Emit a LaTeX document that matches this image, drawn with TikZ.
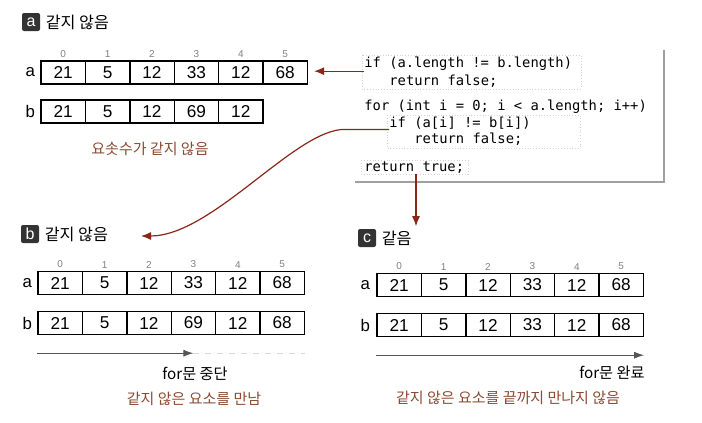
\documentclass[tikz,border=0pt]{standalone}
\usepackage{fontspec}
\setmainfont{Liberation Sans}
\newfontfamily\kr{Noto Sans CJK KR}
\newfontfamily\codefont{DejaVu Sans Mono}
\usepackage{tikz}
\usetikzlibrary{arrows.meta, positioning, calc}

\definecolor{arrowred}{HTML}{8B2518}
\definecolor{capbrown}{HTML}{8C4A32}
\definecolor{badgegray}{HTML}{333333}
\definecolor{flowgray}{HTML}{555555}

\begin{document}
\begin{tikzpicture}[
    x=0.5pt, y=-0.5pt,
    cell/.style={rectangle, draw, line width=0.7pt, minimum width=22.2pt, minimum height=11.5pt, inner sep=0pt, font=\fontsize{8.6}{9}\selectfont},
    idx/.style={inner sep=0pt, text=gray, font=\fontsize{5}{5}\selectfont},
    rowlbl/.style={inner sep=0pt, font=\fontsize{8.4}{9}\selectfont},
    badge/.style={rectangle, fill=badgegray, rounded corners=1pt, minimum size=9pt, inner sep=0pt, text=white, font=\fontsize{8}{8}\selectfont},
    title/.style={inner sep=0pt, font=\kr\fontsize{8.1}{9}\selectfont},
    caption/.style={inner sep=0pt, text=capbrown, font=\kr\fontsize{7.5}{8}\selectfont},
    note/.style={inner sep=0pt, font=\kr\fontsize{7.6}{8}\selectfont},
    code/.style={anchor=west, inner sep=0pt, font=\codefont\fontsize{6.9}{8}\selectfont},
    grp/.style={draw=gray!35, densely dotted, line width=0.4pt},
    frame/.style={draw=gray!75, line width=1.1pt},
    arrow/.style={-{Latex[length=5pt, width=4pt]}, draw=arrowred, line width=0.6pt},
    flow/.style={-{Latex[length=5pt, width=3.5pt]}, draw=flowgray, line width=0.5pt}
]
    \useasboundingbox (0,0) rectangle (702,423);

    % Panel a: lengths differ
    \node[badge] (ka) at (31,22) {a};
    \node[title, right=2.5pt of ka] (ta) {같지 않음};
    \foreach \v [count=\i from 0] in {21,5,12,33,12,68}
        \node[cell] (aa\i) at (63.2+44.4*\i,72.5) {\v};
    \foreach \v [count=\i from 0] in {21,5,12,69,12}
        \node[cell] (ab\i) at (63.2+44.4*\i,111.5) {\v};
    \foreach \i in {0,...,5}
        \node[idx, above=1.2pt of aa\i] (ia\i) {\i};
    \node[rowlbl, left=2.5pt of aa0] (la) {a};
    \node[rowlbl, left=2.5pt of ab0] (lb) {b};
    \node[caption] (capa) at (150,149) {요솟수가 같지 않음};

    % Code
    \node[code] (l1) at (364,64) {if (a.length != b.length)};
    \node[code] (l2) at (389,81) {return false;};
    \node[code] (l3) at (364,107) {for (int i = 0; i < a.length; i++)};
    \node[code] (l4) at (389,123) {if (a[i] != b[i])};
    \node[code] (l5) at (414,139) {return false;};
    \node[code] (l6) at (364,168) {return true;};
    \draw[grp] (362,55) rectangle (581,89);
    \draw[grp] (387,115) rectangle (580,148);
    \draw[grp] (361,160) rectangle (468,174);
    \draw[frame] (355,182) -- (664,182) -- (664,50);

    % Panel b: element differs
    \node[badge] (kb) at (30,234) {b};
    \node[title, right=2.5pt of kb] (tb) {같지 않음};
    \foreach \v [count=\i from 0] in {21,5,12,33,12,68}
        \node[cell] (ba\i) at (60.2+44.4*\i,283) {\v};
    \foreach \v [count=\i from 0] in {21,5,12,69,12,68}
        \node[cell] (bb\i) at (60.2+44.4*\i,323) {\v};
    \foreach \i in {0,...,5}
        \node[idx, above=1.2pt of ba\i] (ib\i) {\i};
    \node[rowlbl, left=2.5pt of ba0] (lba) {a};
    \node[rowlbl, left=2.5pt of bb0] (lbb) {b};
    \coordinate (bstart) at ([yshift=-9pt]bb0.south west);
    \coordinate (bstop) at (bstart -| bb3.center);
    \coordinate (bend) at (bstart -| bb5.east);
    \draw[flow] (bstart) -- (bstop);
    \draw[gray!30, dashed, line width=0.5pt] (bstop) -- (bend);
    \node[note] (nb) at (195,374) {for문 중단};
    \node[caption] (capb) at (194,399) {같지 않은 요소를 만남};

    % Panel c: equal
    \node[badge] (kc) at (367,238) {c};
    \node[title, right=2.5pt of kc] (tc) {같음};
    \foreach \v [count=\i from 0] in {21,5,12,33,12,68}
        \node[cell] (ca\i) at (399.2+44.4*\i,285) {\v};
    \foreach \v [count=\i from 0] in {21,5,12,33,12,68}
        \node[cell] (cb\i) at (399.2+44.4*\i,325) {\v};
    \foreach \i in {0,...,5}
        \node[idx, above=1.2pt of ca\i] (ic\i) {\i};
    \node[rowlbl, left=3pt of ca0] (lca) {a};
    \node[rowlbl, left=3pt of cb0] (lcb) {b};
    \coordinate (cstart) at ([yshift=-9pt]cb0.south west);
    \coordinate (cstop) at (cstart -| cb5.east);
    \draw[flow] (cstart) -- (cstop);
    \node[note, anchor=east] (nc) at (645,373) {for문 완료};
    \node[caption] (capc) at (508,398) {같지 않은 요소를 끝까지 만나지 않음};

    % Links from code to panels
    \coordinate (bin) at (141,236);
    \coordinate (cin) at ([xshift=26pt,yshift=-26pt]l6.south west);
    \draw[arrow, shorten >=3pt] (l1.south west) -- (l1.south west -| aa5.east);
    \draw[arrow] (l4.south west) -- ++(-48,0) .. controls +(-50,5) and +(70,0) .. (bin);
    \draw[arrow] ([xshift=26pt]l6.south west) -- (cin);
\end{tikzpicture}
\end{document}
